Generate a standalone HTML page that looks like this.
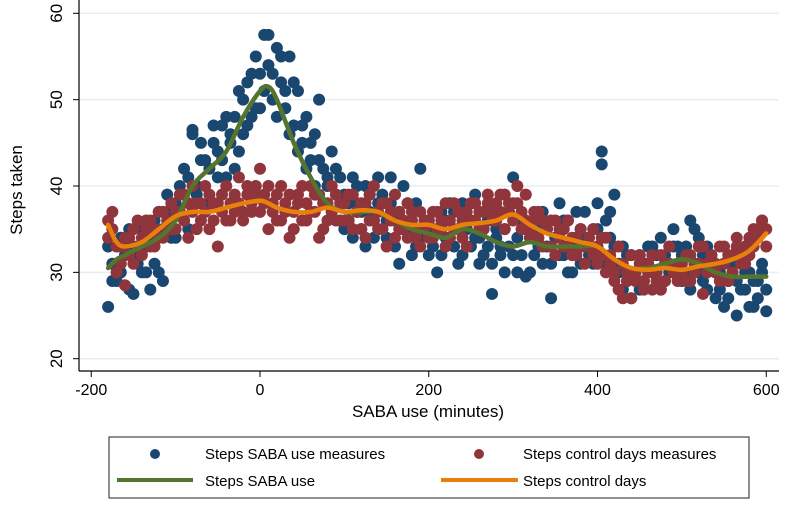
<!DOCTYPE html>
<html><head><meta charset="utf-8"><style>
html,body{margin:0;padding:0;background:#fff}
svg{display:block;font-family:"Liberation Sans",Arial,sans-serif}
</style></head><body>
<svg id="chart" width="800" height="507" viewBox="0 0 800 507" xmlns="http://www.w3.org/2000/svg">
<g id="grid"></g>
<g id="axes"></g>
<g id="blue"></g>
<g id="red"></g>
<g id="lines"></g>
<text x="0" y="0" transform="translate(22,190) rotate(-90)" text-anchor="middle" font-size="17" fill="#000">Steps taken</text>
<text x="428" y="417" text-anchor="middle" font-size="17" fill="#000">SABA use (minutes)</text>
<g>
<rect x="109" y="437" width="640" height="61" fill="#fff" stroke="#222" stroke-width="1"/>
<circle cx="155" cy="454" r="5" fill="#1a476f"/>
<text x="205" y="459" font-size="15">Steps SABA use measures</text>
<circle cx="479" cy="454" r="5" fill="#90353b"/>
<text x="523" y="459" font-size="15">Steps control days measures</text>
<line x1="117" y1="480" x2="193" y2="480" stroke="#55752f" stroke-width="4"/>
<text x="205" y="486" font-size="15">Steps SABA use</text>
<line x1="441" y1="480" x2="518" y2="480" stroke="#e8800a" stroke-width="4"/>
<text x="523" y="486" font-size="15">Steps control days</text>
</g>
</svg>
<script>
const xTicks=[-200,0,200,400,600];
const yTicks=[20,30,40,50,60];
const blueA_=[33,29,31,34,32,28,33,31,35,30,34,36,30,35,37,34,
38,40,36,41,46.5,39,43,37,42,45,44,47,41,46,48,44,50,47,53,49,
53,57.5,54,50,56,52,49,55,47,51,45,48,43,46,50,42,40,44,39,41,
39,36,41,38,35,40,37,34,41,39,36,38,33,37,40,35,32,38,34,36,
36,33,35,32,36,34,37,31,38,35,33,39,34,32,36,31,35,33,30,37,
41,34,32,35,30,36,33,37,35,31,34,38,32,36,30,34,35,37,33,31,
38,44,36,34,39,31,33,29,32,30,28,31,33,30,32,34,29,31,35,33,
32,30,36,31,34,29,33,31,30,28,31,27,30,29,32,28,30,26,29,31,28];
const blueB_=[26,31,29,30,33,35,27.5,32,30,33,28,31,37,29,39,38,
34,37,42,35,46,40,45,43,38,47,41,43,48,45,42,51,46,52,48,55,
49,51,57.5,53,48,55,51,46,52,44,47,42,45,40,43,38,41,37,42,36,
35,38,34,40,37,33,39,36,38,35,34,41,36,31,35,38,36,33,42,35,
32,35,30,37,34,38,33,35,32,36,38,34,31,35,33,27.5,34,32,35,33,
32,30,36,29.5,34,32,35,31,33,27,34,32,36,30,33,37,31,34,32,35,
35,42.5,31,37,33,30,28,32,27,30,32,29,31,33,30,28,32,30,33,31,
29,33,28,35,30,32,28,31,27,30,26,29,31,25,28,30,26,29,27,30,25.5];
const redA_=[36,35,33,31,34,32,35,33,34,36,33,35,37,34,36,35,
37,39,36,38,40,35,38,37,39,36,38,37,40,36,39,38,37,40,38,39,
42,38,40,37,39,36,38,34,37,39,36,38,40,37,39,35,38,40,36,38,
38,36,39,37,35,38,36,40,37,35,38,36,34,37,35,38,36,34,37,35,
36,34,37,35,33,36,38,35,34,37,36,38,35,37,39,36,38,37,39,37,
38,40,37,36,35,37,34,36,35,33,36,34,35,33,34,32,35,33,34,32,
33,32,34,31,30,28,31,29,27,30,32,29,31,28,30,32,29,31,30,29,
30,32,29,31,33,27.5,31,32,30,33,31,29,32,34,31,33,32,35,34,36,33];
const redB_=[34,37,30,33,28.5,34,31,36,32,35,36,33,34,37,35,38,
35,37,39,34,37,38,36,40,35,38,33,39,36,38,37,41,36,39,37,40,
37,39,35,38,36,40,37,39,35,38,40,36,37,39,34,38,36,37,39,36,
36,39,35,37,38,34,39,36,35,38,33,37,39,35,36,34,37,35,33,36,
34,37,35,36,38,34,35,37,36,33,38,36,37,35,38,37,36,39,35,38,
36,38,35,39,34,36,37,33,35,36,32,35,33,36,32,34,33,31,33,35,
31,34,30,32,29,33,27,30,32,29,31,28,30,32,29,28,31,33,30,31,
31,29,32,30,31,33,30,32,31,29,33,32,30,33,32,31,34,33,35,36,35];
const measureX=[-180,-175,-170,-165,-160,-155,-150,-145,-140,-135,-130,-125,-120,-115,-110,-105,-100,-95,-90,-85,-80,-75,-70,-65,-60,-55,-50,-45,-40,-35,-30,-25,-20,-15,-10,-5,0,5,10,15,20,25,30,35,40,45,50,55,60,65,70,75,80,85,90,95,100,105,110,115,120,125,130,135,140,145,150,155,160,165,170,175,180,185,190,195,200,205,210,215,220,225,230,235,240,245,250,255,260,265,270,275,280,285,290,295,300,305,310,315,320,325,330,335,340,345,350,355,360,365,370,375,380,385,390,395,400,405,410,415,420,425,430,435,440,445,450,455,460,465,470,475,480,485,490,495,500,505,510,515,520,525,530,535,540,545,550,555,560,565,570,575,580,585,590,595,600];
const lineX=[-180,-170,-160,-140,-120,-100,-80,-60,-40,-20,0,10,20,40,60,80,100,120,140,160,180,200,220,240,260,280,300,320,340,360,380,400,420,440,460,480,500,520,540,560,580,600];
const sabaLine=[30.5,31.5,32,33,34,36,40,42,44,48,51,51.5,50,45,41,38,37,37,37,36,35,34.5,34,35,34.5,33.5,33,33.5,33,33,33,33,31.5,30.5,30.5,31,31.5,31,30,29.5,29.5,29.5];
const controlLine=[35.5,33.5,33,33.5,35,36.5,37,37,37.5,38,38.3,38,37.5,37,37,37.5,37,37.2,37,36,35.5,35.5,35,35.5,35.7,36,36.7,35.5,34.5,34,33.5,33,31.5,30.5,30.3,30.5,30.3,30.7,31,31.5,32.5,34.5];

const NS="http://www.w3.org/2000/svg";
const X=v=>260+0.84375*v;
const Y=v=>358.7-(v-20)*8.635;
function mk(tag,attrs,parent){const e=document.createElementNS(NS,tag);for(const k in attrs)e.setAttribute(k,attrs[k]);parent.appendChild(e);return e;}
const grid=document.getElementById('grid'),axes=document.getElementById('axes');
yTicks.forEach(t=>{
 const g=mk('line',{x1:79,x2:779,y1:Y(t),y2:Y(t),stroke:'#e6eef3','stroke-width':1.5},grid);
 
 
 const tk=mk('line',{x1:73,x2:79,y1:Y(t),y2:Y(t),stroke:'#000','stroke-width':1},axes);
 
 
 const tx=mk('text',{x:0,y:0,transform:`translate(62,${Y(t)}) rotate(-90)`,'text-anchor':'middle','font-size':17},axes);
 tx.textContent=t;
 
 
});
xTicks.forEach(t=>{
 const tk=mk('line',{x1:X(t),x2:X(t),y1:371,y2:377,stroke:'#000','stroke-width':1},axes);
 
 
 const tx=mk('text',{x:X(t),y:395,'text-anchor':'middle','font-size':16},axes);
 tx.textContent=t;
 
 
});
const ya=mk('line',{x1:79,x2:79,y1:0,y2:371,stroke:'#000','stroke-width':1.2},axes);


const xa=mk('line',{x1:79,x2:779,y1:371,y2:371,stroke:'#000','stroke-width':1.2},axes);



function dots(gid,arrs,color,name){
 const g=document.getElementById(gid);
 arrs.forEach(arr=>arr.forEach((v,i)=>{
  const c=mk('circle',{cx:X(measureX[i]),cy:Y(v),r:6,fill:color},g);
  
  
 }));
}
dots('blue',[blueA_,blueB_],'#1a476f','saba-measure-point');
dots('red',[redA_,redB_],'#90353b','control-measure-point');

function smooth(xs,ys){
 const p=xs.map((x,i)=>[X(x),Y(ys[i])]);
 let d=`M${p[0][0]},${p[0][1]}`;
 for(let i=0;i<p.length-1;i++){
  const p0=p[i-1]||p[i],p1=p[i],p2=p[i+1],p3=p[i+2]||p2;
  const c1=[p1[0]+(p2[0]-p0[0])/6,p1[1]+(p2[1]-p0[1])/6];
  const c2=[p2[0]-(p3[0]-p1[0])/6,p2[1]-(p3[1]-p1[1])/6];
  d+=` C${c1[0]},${c1[1]} ${c2[0]},${c2[1]} ${p2[0]},${p2[1]}`;
 }
 return d;
}
const lg=document.getElementById('lines');
const l1=mk('path',{d:smooth(lineX,sabaLine),fill:'none',stroke:'#55752f','stroke-width':4.5,'stroke-linejoin':'round','stroke-linecap':'round'},lg);


const l2=mk('path',{d:smooth(lineX,controlLine),fill:'none',stroke:'#e8800a','stroke-width':4.5,'stroke-linejoin':'round','stroke-linecap':'round'},lg);


</script>
</body></html>
